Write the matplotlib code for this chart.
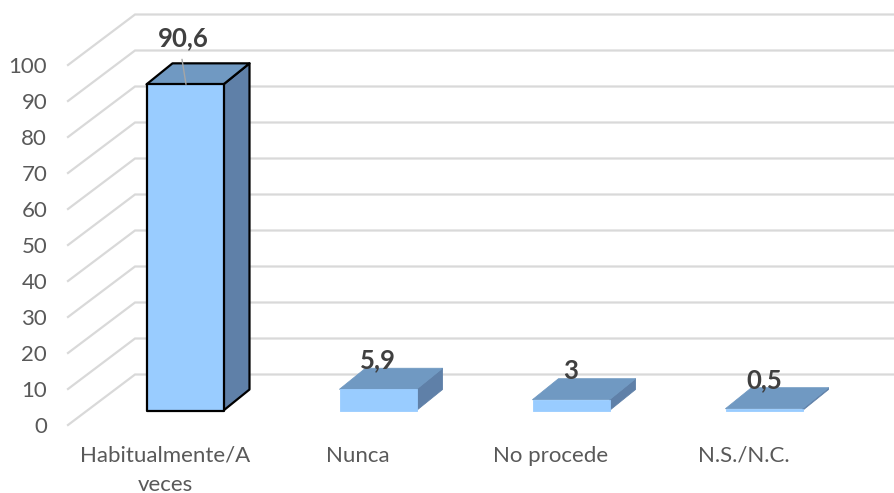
import matplotlib
matplotlib.use("Agg")
import matplotlib.pyplot as plt
from matplotlib.patches import Polygon

categories = ["Habitualmente/A\nveces", "Nunca", "No procede", "N.S./N.C."]
values = [90.6, 5.9, 3, 0.5]
value_labels = ["90,6", "5,9", "3", "0,5"]
y_ticks = list(range(0, 101, 10))

W, H = 894, 493
PX_X = 193.0          # pixels per category
PX_Y = 3.6            # pixels per value unit
plt.rcParams['font.family'] = ['Lato', 'DejaVu Sans']

fig = plt.figure(figsize=(W / 100, H / 100), dpi=100)
ax = fig.add_axes([68 / W, (H - 425) / H, (W - 68) / W, 360 / H])
ax.set_xlim((68 - 165) / PX_X, (W - 165) / PX_X)
ax.set_ylim(0, 100)
for s in ax.spines.values():
    s.set_visible(False)
ax.patch.set_visible(False)

# wall / floor gridlines
x0 = ax.get_xlim()[0]
x1 = ax.get_xlim()[1]
gdx, gdy = 67 / PX_X, 50.5 / PX_Y
for t in y_ticks:
    ax.plot([x0, x0 + gdx, x1], [t, t + gdy, t + gdy], color="#D9D9D9", lw=1.6,
            clip_on=False, zorder=1, solid_joinstyle="miter")

# bars
cx_off = 20 / PX_X
half = 38.5 / PX_X
base = 14.5 / PX_Y
dx, dy = 26 / PX_X, 21 / PX_Y
front_c, top_c, side_c = "#99CCFF", "#7099C2", "#5F80A8"
for i, v in enumerate(values):
    l, r = i + cx_off - half, i + cx_off + half
    b, t = base, base + v
    heavy = i == 0
    ec = ("#000000",) * 3 if heavy else ("#99CCFF", "#7099C2", "#5F80A8")
    lw = 1.6 if heavy else 0.6
    ax.add_patch(Polygon([(r, b), (r + dx, b + dy), (r + dx, t + dy), (r, t)], closed=True,
                         fc=side_c, ec=ec[2], lw=lw, zorder=3, clip_on=False, joinstyle="round"))
    ax.add_patch(Polygon([(l, t), (r, t), (r + dx, t + dy), (l + dx, t + dy)], closed=True,
                         fc=top_c, ec=ec[1], lw=lw, zorder=3, clip_on=False, joinstyle="round"))
    ax.add_patch(Polygon([(l, b), (r, b), (r, t), (l, t)], closed=True,
                         fc=front_c, ec=ec[0], lw=lw, zorder=4, clip_on=False, joinstyle="round"))

# data labels
for i, (v, s) in enumerate(zip(values, value_labels)):
    xc = i + cx_off
    top = base + v
    if i == 0:
        ax.annotate(s, xy=(xc, top), xytext=(-2 * 0.72, 46 * 0.72), textcoords="offset points",
                    ha="center", va="center", fontsize=18.5, fontweight="bold", color="#404040",
                    annotation_clip=False, zorder=6)
        ax.annotate("", xy=(xc + 1 / PX_X, top), xytext=(xc - 3 / PX_X, top + 25 / PX_Y),
                    arrowprops=dict(arrowstyle="-", color="#A6A6A6", lw=1, shrinkA=0, shrinkB=0),
                    annotation_clip=False, zorder=6)
    else:
        ax.annotate(s, xy=(xc, top), xytext=(0, 29 * 0.72), textcoords="offset points",
                    ha="center", va="center", fontsize=18.5, fontweight="bold", color="#404040",
                    annotation_clip=False, zorder=6)

ax.set_yticks(y_ticks)
ax.set_yticklabels([str(t) for t in y_ticks])
ax.set_xticks(range(len(categories)))
ax.set_xticklabels(categories, linespacing=1.55)
ax.tick_params(axis="y", length=0, pad=15, labelsize=16, labelcolor="#595959")
ax.tick_params(axis="x", length=0, pad=15, labelsize=16, labelcolor="#595959")

fig.savefig("out.png", dpi=100)
